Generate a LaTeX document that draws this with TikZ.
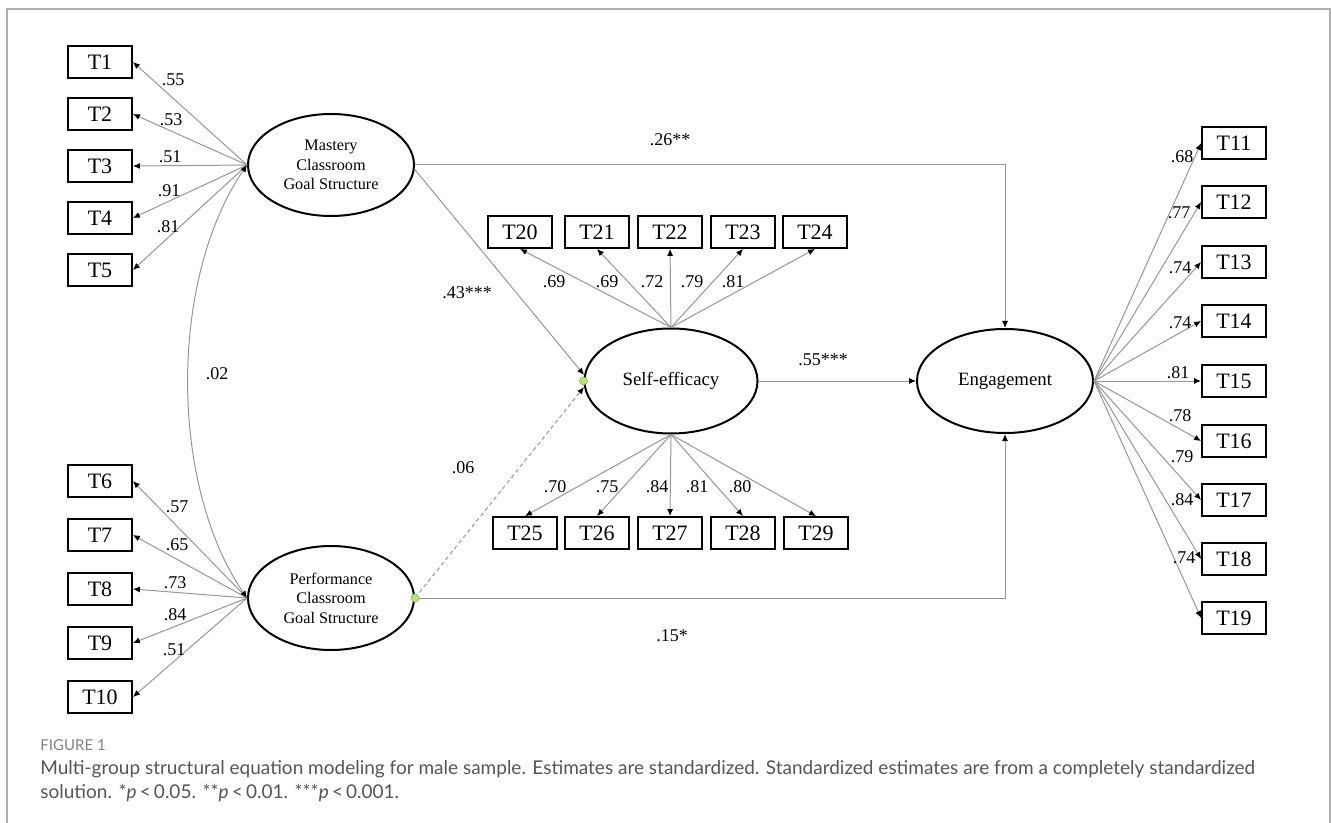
\documentclass[tikz,border=0pt]{standalone}
\usepackage{fontspec}
\setmainfont{Liberation Serif}
\newfontfamily\capfont{Lato}
\usepackage{tikz}
\usetikzlibrary{arrows.meta, shapes.geometric, calc}
\definecolor{wire}{RGB}{150,150,150}
\definecolor{dotfill}{RGB}{185,228,125}
\definecolor{dotline}{RGB}{135,185,85}
\definecolor{framegray}{RGB}{175,175,175}
\definecolor{captext}{RGB}{85,85,85}

\begin{document}
\begin{tikzpicture}[x=0.5pt, y=-0.5pt,
  ind/.style={draw, line width=0.9pt, minimum width=32pt, minimum height=16pt,
    inner sep=0pt, font=\fontsize{11}{12}\selectfont},
  lat/.style={draw, ellipse, line width=1pt, inner sep=0pt, align=center},
  load/.style={draw=wire, line width=0.5pt, -{Latex[length=3.5pt, width=3pt, black]}},
  cov/.style={draw=wire, line width=0.5pt,
    {Latex[length=3.5pt, width=3pt, black]}-{Latex[length=3.5pt, width=3pt, black]}},
  est/.style={font=\fontsize{9}{10}\selectfont, inner sep=0pt},
  gdot/.style={circle, fill=dotfill, draw=dotline, line width=0.3pt,
    minimum size=4pt, inner sep=0pt},
  capline/.style={anchor=west, inner sep=0pt, text=captext}]
  \useasboundingbox (0,0) rectangle (1331,823);
  % frame
  \draw[framegray, line width=1pt] (7,823) -- (7,9) -- (1330,9) -- (1330,823);

  % latent variables
  \node[lat, minimum width=83pt, minimum height=51pt,
    font=\fontsize{8.1}{9.8}\selectfont] (mas) at (331,165)
    {Mastery\\Classroom\\Goal Structure};
  \node[lat, minimum width=83pt, minimum height=52pt,
    font=\fontsize{8.1}{9.8}\selectfont] (perf) at (331,598)
    {Performance\\Classroom\\Goal Structure};
  \node[lat, minimum width=86.5pt, minimum height=52.5pt,
    font=\fontsize{9.4}{11}\selectfont] (sef) at (671,381) {Self-efficacy};
  \node[lat, minimum width=88pt, minimum height=52pt,
    font=\fontsize{9.4}{11}\selectfont] (eng) at (1005,381) {Engagement};

  % mastery indicators
  \foreach \n/\y/\v/\lx/\ly in {1/62/.55/173/80, 2/114/.53/171/120,
      3/166/.51/170/157, 4/218/.91/169/191, 5/270/.81/168/227} {
    \node[ind] (t\n) at (100,\y) {T\n};
    \draw[load] (mas.west) -- (t\n.east);
    \node[est] (e\n) at (\lx,\ly) {\v};
  }
  % performance indicators
  \foreach \n/\y/\v/\lx/\ly in {6/481/.57/177/507, 7/535/.65/177/545,
      8/589/.73/175/583, 9/643/.84/175/615, 10/697/.51/174/650} {
    \node[ind] (t\n) at (100,\y) {T\n};
    \draw[load] (perf.west) -- (t\n.east);
    \node[est] (e\n) at (\lx,\ly) {\v};
  }
  % engagement indicators
  \foreach \n/\y/\v/\lx/\ly in {11/143/.68/1182/157, 12/202/.77/1179/213,
      13/262/.74/1180/268, 14/321/.74/1180/323, 15/381/.81/1178/373,
      16/441/.78/1180/416, 17/500/.79/1182/457, 18/559/.84/1182/500,
      19/618/.74/1184/558} {
    \node[ind] (t\n) at (1234,\y) {T\n};
    \draw[load] (eng.east) -- (t\n.west);
    \node[est] (e\n) at (\lx,\ly) {\v};
  }
  % self-efficacy indicators, top row
  \foreach \n/\x/\v/\lx in {20/520/.69/554, 21/597/.69/607, 22/670/.72/652,
      23/743/.79/692, 24/815/.81/733} {
    \node[ind] (t\n) at (\x,232) {T\n};
    \draw[load] (sef.north) -- (t\n.south);
    \node[est] (e\n) at (\lx,282) {\v};
  }
  % self-efficacy indicators, bottom row
  \foreach \n/\x/\v/\lx in {25/525/.70/555, 26/597/.75/607, 27/670/.84/657,
      28/743/.81/697, 29/816/.80/740} {
    \node[ind] (t\n) at (\x,533) {T\n};
    \draw[load] (sef.south) -- (t\n.north);
    \node[est] (e\n) at (\lx,487) {\v};
  }

  % structural paths
  \draw[cov] (mas.west) .. controls +(-78,114) and +(-78,-114) .. (perf.west);
  \draw[load] (mas.east) -| (eng.north);
  \draw[load] (mas.-3) -- (sef.176);
  \draw[load, dash pattern=on 2pt off 1.5pt] (perf.east) -- (sef.184);
  \draw[load] (perf.east) -| (eng.south);
  \draw[load] (sef.east) -- (eng.west);
  \node[gdot] (dp) at (perf.east) {};
  \node[gdot] (ds) at (sef.west) {};

  % path estimates
  \node[est] (c02) at (217,374) {.02};
  \node[est] (b26) at (670,140) {.26**};
  \node[est] (b43) at (467,293) {.43***};
  \node[est] (b06) at (463,468) {.06};
  \node[est] (b55) at (823,360) {.55***};
  \node[est] (b15) at (672,636) {.15*};

  % caption
  \node[capline, font=\capfont\fontsize{7.5}{8}\selectfont, text=gray] (fig) at (40,745) {FIGURE 1};
  \node[capline, font=\capfont\fontsize{9.5}{12}\selectfont] (cap1) at (40,769)
    {Multi-group structural equation modeling for male sample. Estimates are standardized. Standardized estimates are from a completely standardized};
  \node[capline, font=\capfont\fontsize{9.5}{12}\selectfont] (cap2) at (40,793)
    {solution. *\textit{p}\,<\,0.05. **\textit{p}\,<\,0.01. ***\textit{p}\,<\,0.001.};
\end{tikzpicture}
\end{document}
